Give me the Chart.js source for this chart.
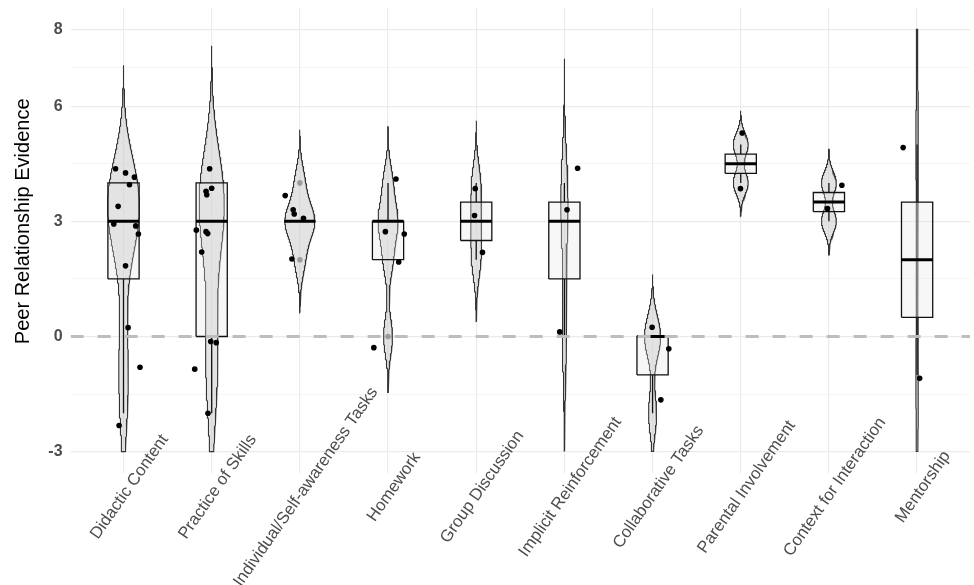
<!DOCTYPE html>
<html>
<head>
<meta charset="utf-8">
<title>Peer Relationship Evidence</title>
<script src="https://cdn.jsdelivr.net/npm/chart.js@4.4.1/dist/chart.umd.min.js"></script>
<style>
  html, body { margin: 0; padding: 0; background: #fff; }
  #chart { display: block; }
</style>
</head>
<body>
<canvas id="chart" width="974" height="585"></canvas>
<script>
// categories on the x axis
const categories = ["Didactic Content", "Practice of Skills", "Individual/Self-awareness Tasks", "Homework",
    "Group Discussion", "Implicit Reinforcement", "Collaborative Tasks", "Parental Involvement",
    "Context for Interaction", "Mentorship"];

// scores per category (boxplots and violins are computed from these)
const scores = [
    [4, 4, 4, 4, 3, 3, 3, 3, 2, 0, -1, -2],
    [4, 4, 4, 4, 3, 3, 3, 2, 0, 0, -1, -2],
    [4, 3, 3, 3, 2],
    [4, 3, 3, 2, 0],
    [4, 3, 2],
    [4, 3, 0],
    [0, 0, -2],
    [5, 4],
    [4, 3],
    [5, -1]
];

// jittered dots as they appear: y value and sideways offset (category units)
const jitterY = [
    [4.37, 4.26, 4.15, 3.95, 3.39, 2.93, 2.88, 2.67, 1.84, 0.23, -0.80, -2.32],
    [4.37, 3.86, 3.78, 3.69, 2.77, 2.73, 2.68, 2.20, -0.13, -0.16, -0.85, -2.00],
    [3.67, 3.30, 3.19, 3.08, 2.02],
    [4.10, 2.73, 2.67, 1.94, -0.29],
    [3.85, 3.15, 2.19],
    [4.38, 3.30, 0.12],
    [0.24, -0.32, -1.65],
    [5.30, 3.85],
    [3.94, 3.33],
    [4.92, -1.09]
];
const jitterX = [
    [-0.090, 0.023, 0.124, 0.068, -0.061, -0.110, 0.139, 0.169, 0.023, 0.052, 0.187, -0.050],
    [-0.023, 0.000, -0.064, -0.056, -0.174, -0.064, -0.045, -0.113, -0.011, 0.052, -0.192, -0.042],
    [-0.166, -0.076, -0.064, 0.041, -0.090],
    [0.090, -0.030, 0.184, 0.121, -0.161],
    [-0.011, -0.019, 0.071],
    [0.150, 0.030, -0.053],
    [-0.005, 0.184, 0.094],
    [0.016, -0.003],
    [0.147, -0.016],
    [-0.158, 0.029]
];

const yTicks = [-3, 0, 3, 6, 8];
const yMinor = [-1.5, 1.5, 4.5, 7];
const yLimits = [-3, 8];
const refValue = 0;

const xRange = [0.4, categories.length + 0.6];
const yRange = [-3.55, 8.55];
const violinHalf = 0.18;
const boxHalf = 0.177;
const FONT = '"Liberation Sans", Arial, Helvetica, sans-serif';

// --- stats helpers (same rules ggplot uses) ---
function quantile(sorted, p) {
    const h = (sorted.length - 1) * p;
    const lo = Math.floor(h);
    const hi = Math.min(lo + 1, sorted.length - 1);
    return sorted[lo] + (h - lo) * (sorted[hi] - sorted[lo]);
}

function boxStats(vals) {
    const s = [...vals].sort((a, b) => a - b);
    const q1 = quantile(s, 0.25), med = quantile(s, 0.5), q3 = quantile(s, 0.75);
    const iqr = q3 - q1;
    const lowFence = q1 - 1.5 * iqr, highFence = q3 + 1.5 * iqr;
    const inside = s.filter((v) => v >= lowFence && v <= highFence);
    return {
        q1, med, q3,
        lo: inside[0],
        hi: inside[inside.length - 1],
        out: s.filter((v) => v < lowFence || v > highFence)
    };
}

function bwNrd0(vals) {
    const n = vals.length;
    const s = [...vals].sort((a, b) => a - b);
    const mean = vals.reduce((a, b) => a + b, 0) / n;
    const sd = Math.sqrt(vals.reduce((a, b) => a + (b - mean) ** 2, 0) / (n - 1));
    let lo = Math.min(sd, (quantile(s, 0.75) - quantile(s, 0.25)) / 1.34);
    if (!lo) lo = sd || Math.abs(s[0]) || 1;
    return 0.9 * lo * Math.pow(n, -0.2);
}

function density(vals) {
    const n = vals.length;
    const bw = bwNrd0(vals);
    const from = Math.min(...vals) - 3 * bw;
    const to = Math.max(...vals) + 3 * bw;
    const pts = [];
    for (let k = 0; k < 512; k++) {
        const y = from + (to - from) * k / 511;
        let sum = 0;
        vals.forEach((v) => {
            const u = (y - v) / bw;
            sum += Math.exp(-0.5 * u * u);
        });
        // scaled by n, like scale = "count"
        pts.push({ y, c: sum / (bw * Math.sqrt(2 * Math.PI)) });
    }
    return pts;
}

// --- build datasets ---
const densities = scores.map(density);
const maxCount = Math.max(...densities.map((d) => Math.max(...d.map((p) => p.c))));

const datasets = [];

densities.forEach((pts, i) => {
    const c = i + 1;
    const kept = pts.filter((p) => p.y >= yLimits[0] && p.y <= yLimits[1]);
    const left = kept.map((p) => ({ x: c - violinHalf * p.c / maxCount, y: p.y }));
    const right = kept.slice().reverse().map((p) => ({ x: c + violinHalf * p.c / maxCount, y: p.y }));
    datasets.push({
        data: left.concat(right, [left[0]]),
        borderColor: "#333333",
        borderWidth: 1.1,
        backgroundColor: "rgba(200,200,200,0.5)",
        fill: "shape",
        order: 7
    });
});

const outliers = [];
scores.forEach((vals, i) => {
    const c = i + 1;
    const b = boxStats(vals);
    // box
    datasets.push({
        data: [
            { x: c - boxHalf, y: b.q1 }, { x: c + boxHalf, y: b.q1 },
            { x: c + boxHalf, y: b.q3 }, { x: c - boxHalf, y: b.q3 },
            { x: c - boxHalf, y: b.q1 }
        ],
        borderColor: "#111111",
        borderWidth: 1.3,
        backgroundColor: "rgba(230,230,230,0.3)",
        fill: "shape",
        order: 6
    });
    // whiskers
    [[b.q3, b.hi], [b.q1, b.lo]].forEach(([a, z]) => {
        if (a === z) return;
        datasets.push({
            data: [{ x: c, y: a }, { x: c, y: z }],
            borderColor: "#111111",
            borderWidth: 1.3,
            fill: false,
            order: 5
        });
    });
    // median
    datasets.push({
        data: [{ x: c - boxHalf, y: b.med }, { x: c + boxHalf, y: b.med }],
        borderColor: "#000000",
        borderWidth: 3,
        fill: false,
        order: 4
    });
    b.out.forEach((v) => outliers.push({ x: c, y: v }));
});

// reference line at zero
datasets.push({
    data: [{ x: xRange[0], y: refValue }, { x: xRange[1], y: refValue }],
    borderColor: "#bdbdbd",
    borderWidth: 3,
    borderDash: [13, 14],
    fill: false,
    order: 3
});

// boxplot outliers
datasets.push({
    data: outliers,
    showLine: false,
    pointRadius: 2.8,
    pointBackgroundColor: "rgba(0,0,0,0.3)",
    pointBorderWidth: 0,
    order: 2
});

// jittered observations
const dots = [];
jitterY.forEach((ys, i) => {
    ys.forEach((y, k) => dots.push({ x: i + 1 + jitterX[i][k], y: y }));
});
datasets.push({
    data: dots,
    showLine: false,
    pointRadius: 2.8,
    pointBackgroundColor: "#000000",
    pointBorderWidth: 0,
    order: 1
});

datasets.forEach((d) => {
    if (d.showLine !== false) d.pointRadius = 0;
    d.tension = 0;
});

// rotated category labels + y title
const labelPlugin = {
    id: "labels",
    afterDraw(chart) {
        const { ctx, scales } = chart;
        const x = scales.x;
        ctx.save();
        ctx.font = "16.8px " + FONT;
        ctx.fillStyle = "#4d4d4d";
        ctx.textAlign = "center";
        ctx.textBaseline = "middle";
        categories.forEach((name, i) => {
            const px = x.getPixelForValue(i + 1);
            ctx.save();
            ctx.translate(px + 6, 487);
            ctx.rotate(-55 * Math.PI / 180);
            ctx.fillText(name, 0, 0);
            ctx.restore();
        });
        ctx.restore();

        ctx.save();
        ctx.font = "20px " + FONT;
        ctx.fillStyle = "#000000";
        ctx.textAlign = "center";
        ctx.textBaseline = "alphabetic";
        ctx.translate(29, scales.y.getPixelForValue(3));
        ctx.rotate(-Math.PI / 2);
        ctx.fillText("Peer Relationship Evidence", 0, 0);
        ctx.restore();
    }
};

new Chart(document.getElementById("chart"), {
    type: "line",
    data: { datasets: datasets },
    options: {
        responsive: false,
        animation: false,
        devicePixelRatio: 1,
        events: [],
        layout: { padding: { top: 8.2, right: 0, left: 0, bottom: 0 } },
        plugins: {
            legend: { display: false },
            tooltip: { enabled: false }
        },
        scales: {
            x: {
                type: "linear",
                min: xRange[0],
                max: xRange[1],
                afterBuildTicks: (axis) => {
                    axis.ticks = categories.map((c, i) => ({ value: i + 1 }));
                },
                afterFit: (axis) => {
                    axis.height = 112.2;
                    axis.paddingLeft = 0;
                    axis.paddingRight = 0;
                },
                ticks: { display: false },
                grid: { color: "#ebebeb", lineWidth: 1.2, drawTicks: false },
                border: { display: false }
            },
            y: {
                type: "linear",
                min: yRange[0],
                max: yRange[1],
                afterBuildTicks: (axis) => {
                    axis.ticks = yTicks.concat(yMinor).sort((a, b) => a - b).map((v) => ({ value: v }));
                },
                afterFit: (axis) => {
                    axis.width = 70.6;
                    axis.paddingTop = 0;
                    axis.paddingBottom = 0;
                },
                ticks: {
                    autoSkip: false,
                    padding: 8,
                    color: "#4d4d4d",
                    font: { family: FONT, size: 16, weight: "bold" },
                    callback: (v) => (yTicks.includes(v) ? String(v) : "")
                },
                grid: {
                    drawTicks: false,
                    color: (ctx) => (ctx.tick && yTicks.includes(ctx.tick.value) ? "#ebebeb" : "#f2f2f2"),
                    lineWidth: (ctx) => (ctx.tick && yTicks.includes(ctx.tick.value) ? 1.2 : 0.8)
                },
                border: { display: false }
            }
        }
    },
    plugins: [labelPlugin]
});
</script>
</body>
</html>
